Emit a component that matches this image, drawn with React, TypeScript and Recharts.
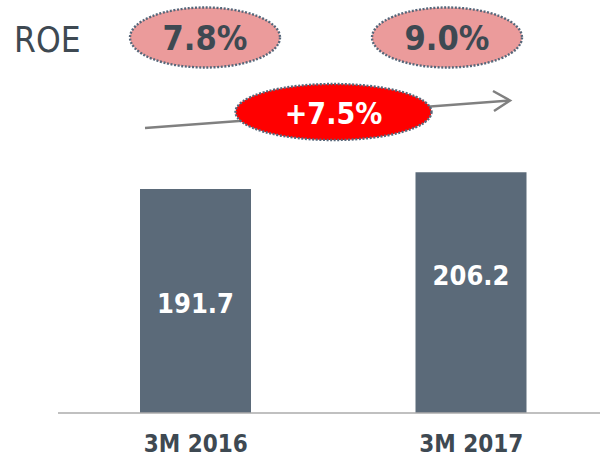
import React from "react";
import { BarChart, Bar, XAxis, YAxis, LabelList, Customized } from "recharts";

const periods = ["3M 2016", "3M 2017"];
const revenue = [191.7, 206.2];
const roe = ["7.8%", "9.0%"];
const growth = "+7.5%";

const data = periods.map((p, i) => ({ period: p, value: revenue[i] }));

const BAR = "#5b6a79";
const DARK = "#3e4952";
const FONT = "'DejaVu Sans Condensed', 'DejaVu Sans', sans-serif";

// label offsets inside the bars (px from bar middle)
const labelShift = [2, -17];

const ValueLabel = (props: any) => {
  const { x, y, width, height, value, index } = props;
  return (
    <text
      x={x + width / 2}
      y={y + height / 2 + (labelShift[index] || 0)}
      textAnchor="middle"
      dominantBaseline="central"
      fill="#fff"
      fontFamily={FONT}
      fontWeight="bold"
      fontSize={27}
    >
      {value}
    </text>
  );
};

const PeriodTick = (props: any) => {
  const { x, y, payload } = props;
  return (
    <text
      x={x}
      y={y + 39}
      textAnchor="middle"
      fill={DARK}
      fontFamily={FONT}
      fontWeight="bold"
      fontSize={24}
    >
      {payload.value}
    </text>
  );
};

const roePos = [205, 447];

const Annotations = () => (
  <g>
    <text x={14} y={52} fill={DARK} fontFamily={FONT} fontSize={35}>
      ROE
    </text>
    {roe.map((r, i) => (
      <g key={r}>
        <ellipse
          cx={roePos[i]}
          cy={37.5}
          rx={75}
          ry={30}
          fill="#eb9b9b"
          stroke="#56677a"
          strokeWidth={2.4}
          strokeDasharray="2 1.6"
        />
        <text
          x={roePos[i]}
          y={38}
          textAnchor="middle"
          dominantBaseline="central"
          fill={DARK}
          fontFamily={FONT}
          fontWeight="bold"
          fontSize={34}
        >
          {r}
        </text>
      </g>
    ))}
    <line x1={145} y1={128} x2={510} y2={100.5} stroke="#808080" strokeWidth={2.5} />
    <polyline
      points="493,91 510,100.5 494,111"
      fill="none"
      stroke="#808080"
      strokeWidth={2.5}
    />
    <ellipse
      cx={333.5}
      cy={112}
      rx={98}
      ry={28}
      fill="#ff0000"
      stroke="#56677a"
      strokeWidth={2.4}
      strokeDasharray="2 1.6"
    />
    <text
      x={333.5}
      y={113}
      textAnchor="middle"
      dominantBaseline="central"
      fill="#fff"
      fontFamily={FONT}
      fontWeight="bold"
      fontSize={30}
    >
      {growth}
    </text>
  </g>
);

export default function App() {
  return (
    <div style={{ position: "absolute", left: 0, top: 0, width: 600, height: 459, overflow: "hidden", background: "#fff" }}>
      <BarChart
        width={609}
        height={459}
        data={data}
        margin={{ top: 121, right: 0, bottom: 0, left: 58 }}
        barSize={111}
      >
        <XAxis
          dataKey="period"
          height={46}
          tickLine={false}
          tickSize={0}
          tickMargin={0}
          axisLine={{ stroke: "#ababab", strokeWidth: 1.5 }}
          tick={<PeriodTick />}
        />
        <YAxis hide width={0} domain={[0, 250]} />
        <Bar dataKey="value" fill={BAR} isAnimationActive={false}>
          <LabelList dataKey="value" content={<ValueLabel />} />
        </Bar>
        <Customized component={<Annotations />} />
      </BarChart>
    </div>
  );
}
